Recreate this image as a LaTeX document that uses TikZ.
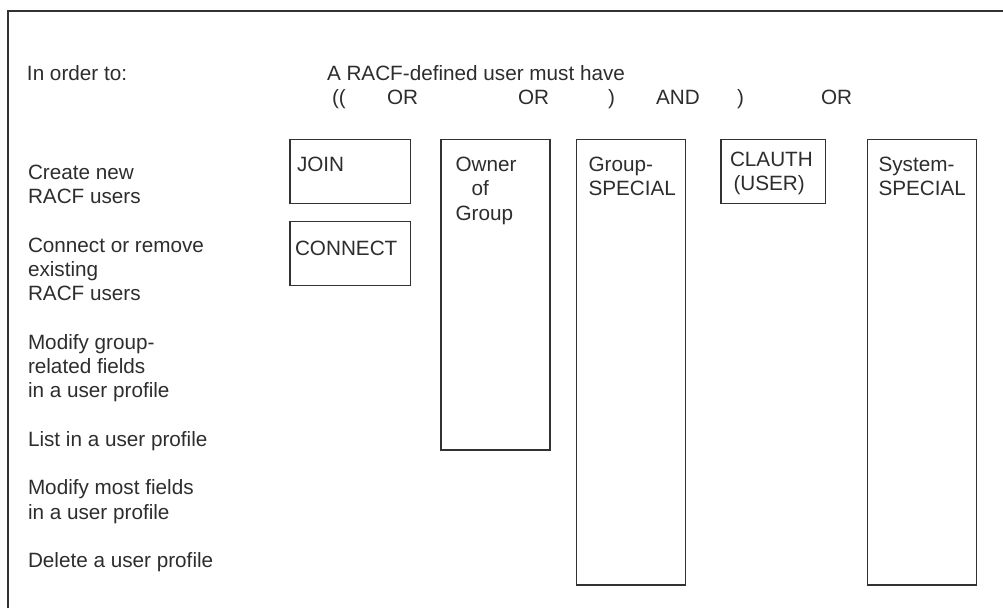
\documentclass[tikz,border=0pt]{standalone}
\usepackage{fontspec}
\setmainfont{Liberation Sans}
\definecolor{ink}{RGB}{45,45,45}
\definecolor{lineink}{RGB}{50,50,50}
\begin{document}
\begin{tikzpicture}[x=1pt,y=-1pt,
  every node/.style={inner sep=0pt,outer sep=0pt},
  txt/.style={anchor=base west,text=ink,font=\fontsize{20.7}{24.25}\selectfont},
  box/.style={draw=lineink,line width=1.4pt,anchor=north west,minimum width=#1},
  frame/.style={draw=lineink,line width=1.2pt}]
\useasboundingbox (0,0) rectangle (1003,608);
% frame (top and left sides only)
\coordinate (fl) at (8,608);
\coordinate (fc) at (8,11);
\coordinate (fr) at (1003,11);
\draw[frame] (fl) -- (fc) -- (fr);
% header
\node[txt] (hdr1) at (27,80) {In order to:};
\node[txt] (hdr2) at (327,80) {A RACF-defined user must have};
\node[txt] (op1) at (332,104.5) {((};
\node[txt] (op2) at (387,104.5) {OR};
\node[txt] (op3) at (518,104.5) {OR};
\node[txt] (op4) at (608,104.5) {)};
\node[txt] (op5) at (656,104.5) {AND};
\node[txt] (op6) at (737,104.5) {)};
\node[txt] (op7) at (821,104.5) {OR};
% left labels
\node[txt] (l1a) at (28,179.5) {Create new};
\node[txt] (l1b) at (28,203.75) {RACF users};
\node[txt] (l2a) at (28,252.25) {Connect or remove};
\node[txt] (l2b) at (28,276.5) {existing};
\node[txt] (l2c) at (28,300.75) {RACF users};
\node[txt] (l3a) at (28,349.25) {Modify group-};
\node[txt] (l3b) at (28,373.5) {related fields};
\node[txt] (l3c) at (28,397.75) {in a user profile};
\node[txt] (l4a) at (28,446.25) {List in a user profile};
\node[txt] (l5a) at (28,494.75) {Modify most fields};
\node[txt] (l5b) at (28,519) {in a user profile};
\node[txt] (l6a) at (28,567.5) {Delete a user profile};
% boxes
\node[box=120.7pt,minimum height=64pt] (join) at (290,139.3) {};
\node[box=120.7pt,minimum height=64pt] (connect) at (290,221.7) {};
\node[box=109pt,minimum height=310.7pt] (owner) at (441,139.3) {};
\node[box=109pt,minimum height=445.7pt] (gspec) at (576.7,139.3) {};
\node[box=104.7pt,minimum height=64pt] (clauth) at (721,139.3) {};
\node[box=109.4pt,minimum height=445.7pt] (sspec) at (867.3,139.3) {};
% box texts
\node[txt] (tjoin) at (297,171.5) {JOIN};
\node[txt] (tconn) at (295,255.5) {CONNECT};
\node[txt] (town1) at (455.5,171.5) {Owner};
\node[txt] (town2) at (471.5,195.75) {of};
\node[txt] (town3) at (455.5,220) {Group};
\node[txt] (tgs1) at (588.5,171.5) {Group-};
\node[txt] (tgs2) at (588.5,195.75) {SPECIAL};
\node[txt] (tcl1) at (730,166.5) {CLAUTH};
\node[txt] (tcl2) at (733.5,190.75) {(USER)};
\node[txt] (tss1) at (878.5,171.5) {System-};
\node[txt] (tss2) at (878.5,195.75) {SPECIAL};
\end{tikzpicture}
\end{document}
